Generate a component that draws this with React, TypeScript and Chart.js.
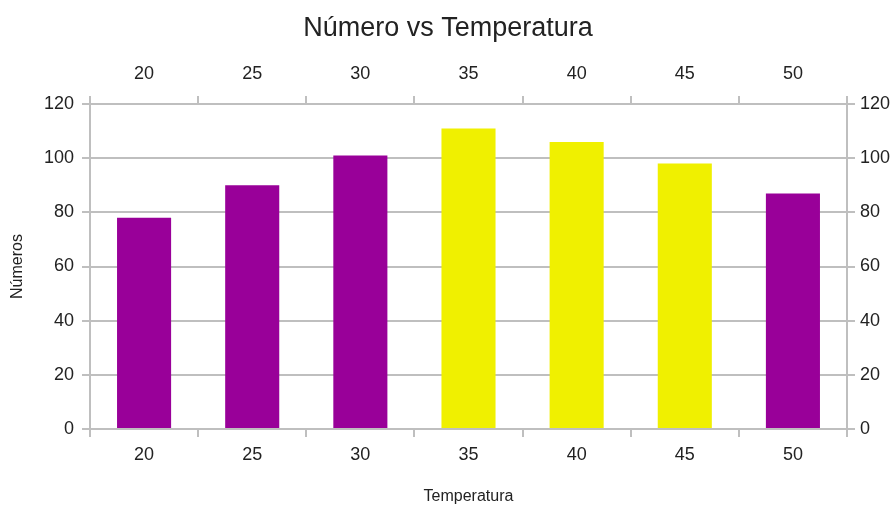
import React, { useEffect, useRef } from "react";
import { Chart, registerables } from "chart.js";
Chart.register(...registerables);

const categories = ["20", "25", "30", "35", "40", "45", "50"];
const values = [78, 90, 101, 111, 106, 98, 87];
const highlighted = ["35", "40", "45"];
const yMin = 0;
const yMax = 120;
const yStep = 20;

export default function App() {
  const ref = useRef<HTMLCanvasElement>(null);
  useEffect(() => {
    document.body.style.margin = "0";
    const purple = "#990099";
    const yellow = "#f0f000";
    const gridColor = "#bfbfbf";
    const textColor = "#222222";
    const family = "'Liberation Sans', Arial, sans-serif";
    const tickFont = { family, size: 18 };
    const titleSize = 27;
    const titleH = titleSize * 1.2 + 12 + 8;
    const chart = new Chart(ref.current as HTMLCanvasElement, {
      type: "bar",
      data: {
        labels: categories,
        datasets: [
          {
            data: values,
            backgroundColor: categories.map((c) => (highlighted.includes(c) ? yellow : purple)),
            categoryPercentage: 1,
            barPercentage: 0.5,
            xAxisID: "x",
            yAxisID: "y",
          },
        ],
      },
      options: {
        animation: false,
        responsive: false,
        layout: { padding: 0 },
        plugins: {
          legend: { display: false },
          tooltip: { enabled: false },
          title: {
            display: true,
            text: "Número vs Temperatura",
            color: textColor,
            font: { family, size: titleSize, weight: "normal" },
            padding: { top: 12, bottom: 8 },
          },
        },
        scales: {
          x: {
            type: "category",
            position: "bottom",
            offset: true,
            grid: { offset: true, drawOnChartArea: false, drawTicks: true, tickLength: 8, color: gridColor, lineWidth: 2 },
            border: { display: true, color: gridColor, width: 2 },
            ticks: { color: textColor, font: tickFont, padding: 7, maxRotation: 0 },
            title: {
              display: true,
              text: "Temperatura",
              color: textColor,
              font: { family, size: 16 },
              padding: { top: 0, bottom: 1 },
            },
            afterFit: (s: any) => {
              s.height = 78;
            },
          },
          x2: {
            type: "category",
            position: "top",
            offset: true,
            labels: categories,
            grid: { offset: true, drawOnChartArea: false, drawTicks: true, tickLength: 8, color: gridColor, lineWidth: 2 },
            border: { display: true, color: gridColor, width: 2 },
            ticks: { color: textColor, font: tickFont, padding: 11, maxRotation: 0 },
            afterFit: (s: any) => {
              s.height = 104 - titleH;
            },
          },
          y: {
            type: "linear",
            position: "left",
            min: yMin,
            max: yMax,
            grid: { drawTicks: true, tickLength: 8, color: gridColor, lineWidth: 2 },
            border: { display: true, color: gridColor, width: 2 },
            ticks: { stepSize: yStep, color: textColor, font: tickFont, padding: 8 },
            title: {
              display: true,
              text: "Números",
              color: textColor,
              font: { family, size: 16 },
              padding: { top: 8, bottom: 0 },
            },
            afterFit: (s: any) => {
              s.width = 90;
            },
          },
          y2: {
            type: "linear",
            position: "right",
            min: yMin,
            max: yMax,
            grid: { drawOnChartArea: false, drawTicks: true, tickLength: 8, color: gridColor, lineWidth: 2 },
            border: { display: true, color: gridColor, width: 2 },
            ticks: { stepSize: yStep, color: textColor, font: tickFont, padding: 5 },
            afterFit: (s: any) => {
              s.width = 49;
            },
          },
        },
      } as any,
    });
    return () => chart.destroy();
  }, []);
  return (
    <div style={{ position: "absolute", left: 0, top: 0, width: 896, height: 507 }}>
      <canvas ref={ref} width={896} height={507} style={{ display: "block" }} />
    </div>
  );
}
